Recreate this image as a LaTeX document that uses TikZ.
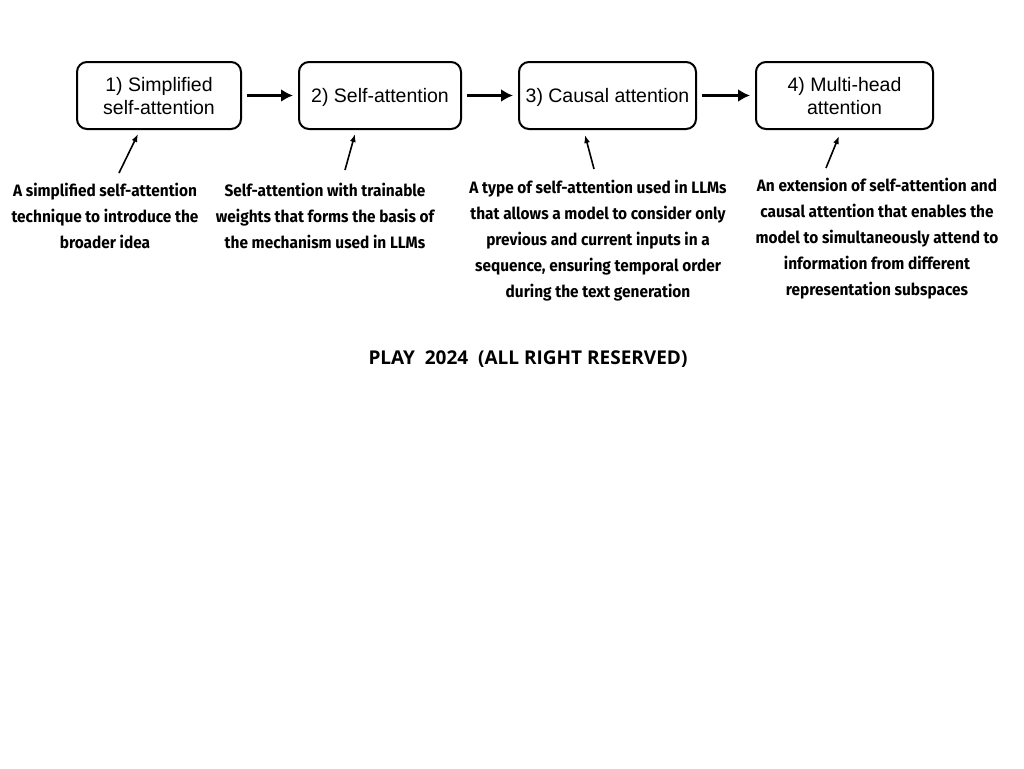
\documentclass[tikz,border=0pt]{standalone}
\usepackage{fontspec}
\usetikzlibrary{arrows.meta}
\setmainfont{Liberation Sans}
\newfontfamily\descfont[FakeStretch=0.935]{Fira Sans}
\newfontfamily\footfont{Open Sans}
\tikzset{
  stage/.style={draw=black, line width=2pt, rounded corners=10pt, minimum height=67pt,
    inner sep=0pt, text depth=0pt, align=center, font=\fontsize{19.5}{23}\selectfont},
  desc/.style={align=center, inner sep=0pt, font=\descfont\bfseries\fontsize{16.5}{26}\selectfont},
  flow/.style={line width=3pt, shorten <=5pt, shorten >=5pt, -{Latex[length=12pt,width=13pt]}},
  note/.style={line width=1.6pt, -{Latex[length=8pt,width=6pt]}},
}
\begin{document}
\begin{tikzpicture}[x=1pt,y=-1pt]
\useasboundingbox[fill=white] (0,0) rectangle (1024,768);
\node[stage, minimum width=164pt] (s1) at (159,95.5) {1) Simplified\\self-attention};
\node[stage, minimum width=162pt] (s2) at (380,95.5) {2) Self-attention};
\node[stage, minimum width=177pt] (s3) at (607.5,95.5) {3) Causal attention};
\node[stage, minimum width=177pt] (s4) at (844.5,95.5) {4) Multi-head\\attention};
\draw[flow] (s1) -- (s2);
\draw[flow] (s2) -- (s3);
\draw[flow] (s3) -- (s4);
\node[desc] (d1) at (105,216) {A simplified self-attention\\technique to introduce the\\broader idea};
\node[desc] (d2) at (325,216) {Self-attention with trainable\\weights that forms the basis of\\the mechanism used in LLMs};
\node[desc] (d3) at (598,240.5) {A type of self-attention used in LLMs\\that allows a model to consider only\\previous and current inputs in a\\sequence, ensuring temporal order\\during the text generation};
\node[desc] (d4) at (877,238.5) {An extension of self-attention and\\causal attention that enables the\\model to simultaneously attend to\\information from different\\representation subspaces};
\coordinate (a1) at (119,173); \coordinate (b1) at (138,134);
\coordinate (a2) at (345,170); \coordinate (b2) at (355,134);
\coordinate (a3) at (594,169); \coordinate (b3) at (585,135);
\coordinate (a4) at (826,168); \coordinate (b4) at (839,136);
\draw[note] (a1) -- (b1);
\draw[note] (a2) -- (b2);
\draw[note] (a3) -- (b3);
\draw[note] (a4) -- (b4);
\node[font=\footfont\bfseries\fontsize{19}{22}\selectfont, inner sep=0pt] (foot) at (528,359) {PLAY\ \ 2024\ \ (ALL RIGHT RESERVED)};
\end{tikzpicture}
\end{document}
